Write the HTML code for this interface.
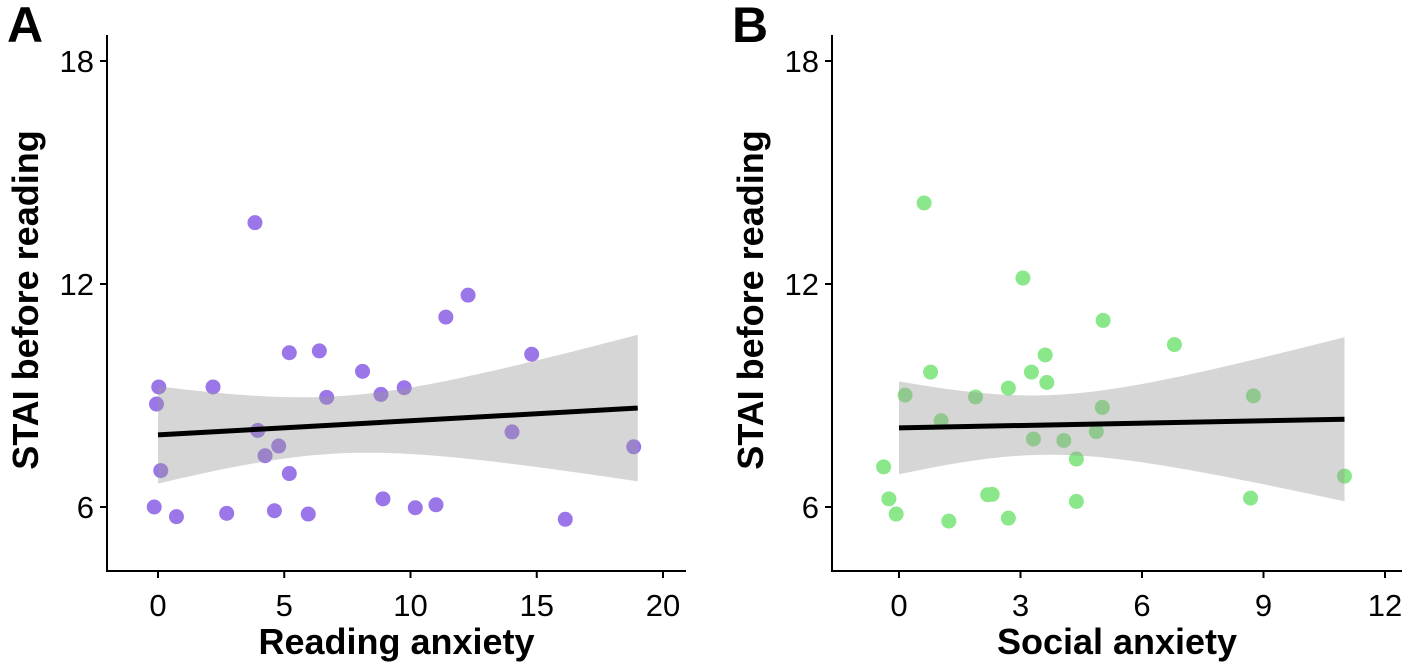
<!DOCTYPE html>
<html><head><meta charset="utf-8"><style>
body{margin:0;background:#fff}
svg{display:block;font-family:"Liberation Sans",sans-serif}
</style></head><body>
<svg id="fig" width="1416" height="669"></svg>
<script>
const xA=[3.84,12.28,11.4,5.2,6.39,14.8,8.1,0.03,2.18,-0.06,6.68,8.83,9.75,3.95,4.78,4.24,14.02,18.84,0.11,5.2,-0.15,0.73,2.72,4.61,5.95,8.91,10.19,11.01,16.13];
const yA=[13.65,11.7,11.11,10.15,10.2,10.11,9.65,9.23,9.23,8.77,8.95,9.03,9.21,8.06,7.64,7.38,8.02,7.62,6.98,6.9,6.0,5.74,5.83,5.9,5.81,6.22,5.98,6.06,5.67];
const xB=[0.62,3.06,5.04,6.8,3.61,0.78,3.27,3.65,2.7,0.15,1.89,8.75,5.02,1.04,4.87,3.32,4.07,4.38,-0.38,11.0,-0.25,2.3,2.19,4.38,8.68,-0.07,1.23,2.7];
const yB=[14.18,12.16,11.02,10.37,10.09,9.63,9.63,9.35,9.2,9.01,8.96,8.99,8.68,8.32,8.03,7.83,7.79,7.29,7.08,6.83,6.22,6.34,6.33,6.15,6.24,5.81,5.62,5.7];
const fitA=[7.94,0.038,0.593,0.0229,7,0,19];   // intercept, slope, a, b, xbar, xmin, xmax
const fitB=[8.13,0.021,0.64,0.0753,3.5,0,11];
const yTicks=[6,12,18];
const xTicksA=[0,5,10,15,20];
const xTicksB=[0,3,6,9,12];
const NS="http://www.w3.org/2000/svg";
const svg=document.getElementById('fig');
function mk(t,a,p){const e=document.createElementNS(NS,t);for(const k in a)e.setAttribute(k,a[k]);(p||svg).appendChild(e);return e;}
function panel(cfg){
  const g=mk('g',{});
  
  
  const sx=v=>cfg.x0+(v-cfg.xd0)*(cfg.x1-cfg.x0)/(cfg.xd1-cfg.xd0);
  const sy=v=>284+(12-v)*(507-284)/6;
  cfg.xs.forEach((v,i)=>{const c=mk('circle',{cx:sx(v),cy:sy(cfg.ys[i]),r:7.5,fill:cfg.color},g);
    
    });
  const f=cfg.fit;let up=[],lo=[];
  for(let k=0;k<=60;k++){const x=f[5]+(f[6]-f[5])*k/60;const m=f[0]+f[1]*x;const h=Math.sqrt(f[2]+f[3]*(x-f[4])**2);
    up.push(sx(x)+','+sy(m+h));lo.unshift(sx(x)+','+sy(m-h));}
  const rb=mk('polygon',{points:up.concat(lo).join(' '),fill:'#999',opacity:0.4},g);
  
  
  const ln=mk('line',{x1:sx(f[5]),y1:sy(f[0]+f[1]*f[5]),x2:sx(f[6]),y2:sy(f[0]+f[1]*f[6]),stroke:'#000','stroke-width':5},g);
  
  
  const ya=mk('line',{x1:cfg.ax,y1:35,x2:cfg.ax,y2:572,stroke:'#000','stroke-width':2},g);
  
  
  const xa=mk('line',{x1:cfg.ax-1,y1:571,x2:cfg.axEnd,y2:571,stroke:'#000','stroke-width':2},g);
  
  
  yTicks.forEach(t=>{mk('line',{x1:cfg.ax-7,y1:sy(t),x2:cfg.ax,y2:sy(t),stroke:'#000','stroke-width':2},g);
    const tx=mk('text',{x:cfg.ax-13,y:sy(t)+11,'text-anchor':'end','font-size':31,fill:'#000'},g);tx.textContent=t;
    
    });
  cfg.ticks.forEach(t=>{mk('line',{x1:sx(t),y1:571,x2:sx(t),y2:578,stroke:'#000','stroke-width':2},g);
    const tx=mk('text',{x:sx(t),y:616,'text-anchor':'middle','font-size':31,fill:'#000'},g);tx.textContent=t;
    
    });
  const xt=mk('text',{x:(cfg.ax+cfg.axEnd)/2,y:654,'text-anchor':'middle','font-size':36,'font-weight':'bold'},g);xt.textContent=cfg.xlab;
  
  
  const yc=cfg.ax-69;
  const yt=mk('text',{x:0,y:0,transform:`translate(${yc},300) rotate(-90)`,'text-anchor':'middle','font-size':36,'font-weight':'bold'},g);yt.textContent='STAI before reading';
  
  
  const pl=mk('text',{x:cfg.ax-100,y:42,'font-size':50,'font-weight':'bold'},g);pl.textContent=cfg.letter;
  
  
}
panel({name:'panel-a',xs:xA,ys:yA,fit:fitA,color:'#9b76e9',x0:158,x1:663,xd0:0,xd1:20,ax:107,axEnd:686,ticks:xTicksA,xlab:'Reading anxiety',letter:'A'});
panel({name:'panel-b',xs:xB,ys:yB,fit:fitB,color:'#8ae88a',x0:899,x1:1385,xd0:0,xd1:12,ax:832,axEnd:1402,ticks:xTicksB,xlab:'Social anxiety',letter:'B'});
</script>
</body></html>
